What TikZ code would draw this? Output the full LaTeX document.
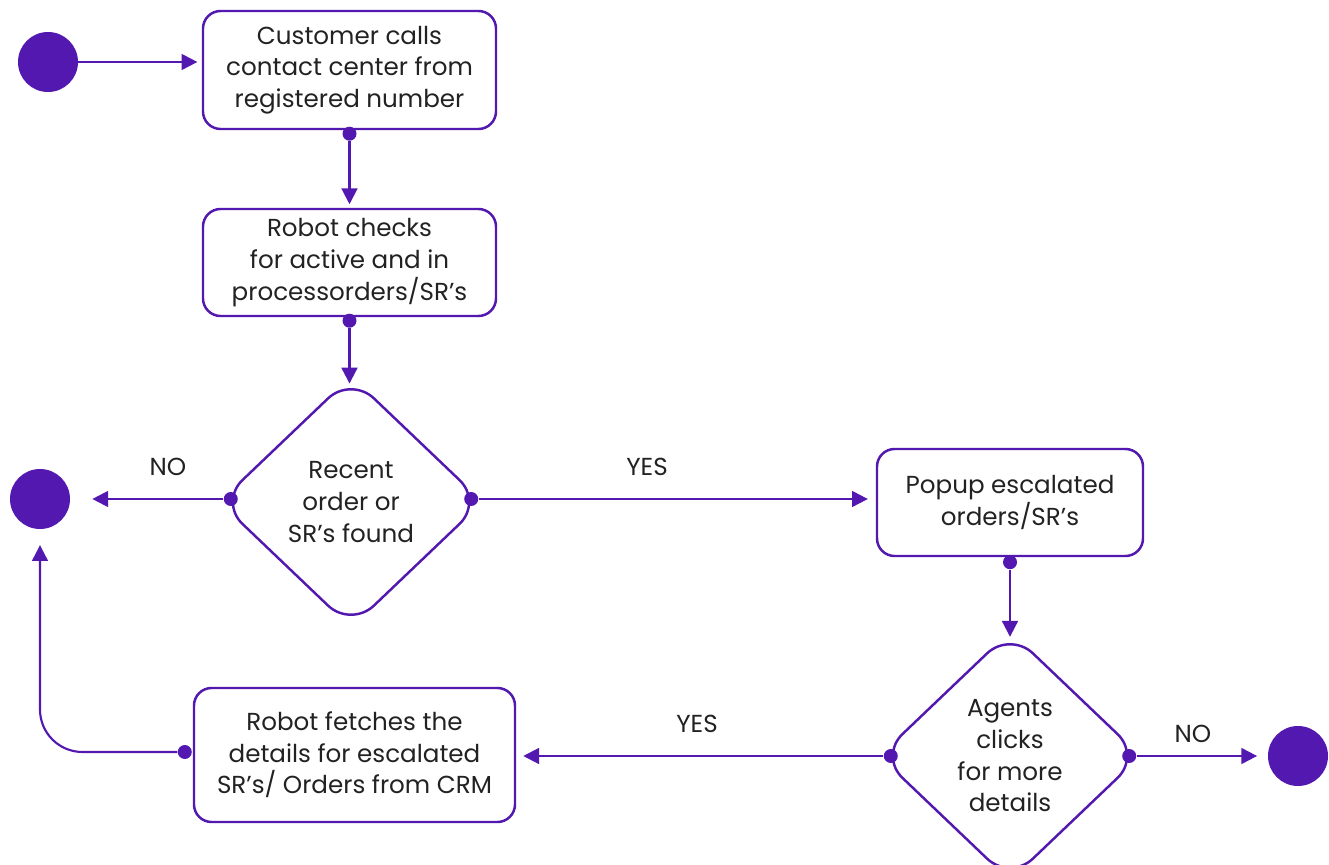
\documentclass[tikz,border=0pt]{standalone}
\usepackage{fontspec}
\setmainfont{Poppins}
\usetikzlibrary{positioning,calc,shapes.geometric,arrows.meta}
\definecolor{FlowPurple}{RGB}{82,24,176}
\definecolor{InkGray}{RGB}{34,34,34}

\begin{document}
\begin{tikzpicture}[every node/.style={font=\fontsize{14}{18}\selectfont, text=InkGray},
  box/.style={draw=FlowPurple, line width=1.4pt, rounded corners=10pt, align=center, inner sep=0pt},
  decision/.style={diamond, draw=FlowPurple, line width=1.4pt, rounded corners=18pt, align=center, inner sep=-20pt},
  term/.style={circle, fill=FlowPurple, minimum size=1.2cm, inner sep=0pt},
  dot/.style={circle, fill=FlowPurple, minimum size=0.28cm, inner sep=0pt},
  flow/.style={draw=FlowPurple, line width=1.2pt, -{Triangle[length=9pt,width=9pt]}}]
  \useasboundingbox (0,0) rectangle (26.58,-17.3);

  % terminals
  \node[term] (start) at (0.96,-1.24) {};
  \node[term] (endL)  at (0.80,-9.98) {};
  \node[term] (endR)  at (25.96,-15.12) {};

  % steps
  \node[box, minimum width=5.86cm, minimum height=2.36cm] (b1) at (6.99,-1.40)
    {Customer calls\\contact center from\\registered number};
  \node[box, minimum width=5.86cm, minimum height=2.14cm] (b2) at (6.99,-5.25)
    {Robot checks\\for active and in\\processorders/SR’s};
  \node[decision, minimum width=5.28cm, minimum height=5.04cm] (d1) at (7.02,-10.04)
    {Recent\\order or\\SR’s found};
  \node[box, minimum width=5.32cm, minimum height=2.14cm] (b3) at (20.20,-10.05)
    {Popup escalated\\orders/SR’s};
  \node[decision, minimum width=5.24cm, minimum height=5.0cm] (d2) at (20.20,-15.12)
    {Agents\\clicks\\for more\\details};
  \node[box, minimum width=6.42cm, minimum height=2.68cm] (b4) at (7.09,-15.10)
    {Robot fetches the\\details for escalated\\SR’s/ Orders from CRM};

  % ports
  \node[dot] (b1s) at ([yshift=-0.07cm]b1.south) {};
  \node[dot] (b2s) at ([yshift=-0.07cm]b2.south) {};
  \node[dot] (d1l) at ([xshift=0.26cm,yshift=0.06cm]d1.west) {};
  \node[dot] (d1r) at ([xshift=-0.26cm,yshift=0.06cm]d1.east) {};
  \node[dot] (b3s) at ([yshift=-0.1cm]b3.south) {};
  \node[dot] (d2l) at ([xshift=0.26cm]d2.west) {};
  \node[dot] (d2r) at ([xshift=-0.26cm]d2.east) {};
  \node[dot] (b4w) at ([xshift=-0.16cm,yshift=0.06cm]b4.west) {};

  % connectors
  \draw[flow, shorten >=2.5pt] (start) -- (start -| b1.west);
  \draw[flow, shorten >=2pt] (b1s) -- (b2);
  \draw[flow, shorten >=-5pt] (b2s) -- (b2s |- d1.north);
  \draw[flow, shorten >=12.5pt] (d1l) -- (endL);
  \draw[flow, shorten >=4.5pt] (d1r) -- (d1r -| b3.west);
  \draw[flow, shorten >=-4pt] (b3s) -- (b3s |- d2.north);
  \draw[flow, shorten >=6pt] (d2r) -- (endR);
  \draw[flow, shorten >=4pt] (d2l) -- (d2l -| b4.east);
  \draw[flow, rounded corners=0.85cm, shorten >=9pt] (b4w) -| (endL);

  % labels
  \node at (3.36,-9.34) {NO};
  \node at (12.94,-9.34) {YES};
  \node at (13.94,-14.48) {YES};
  \node at (23.86,-14.68) {NO};
\end{tikzpicture}
\end{document}
